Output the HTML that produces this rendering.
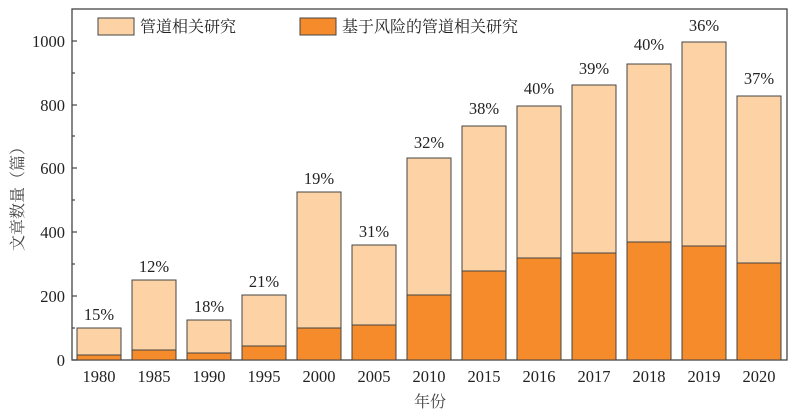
<!DOCTYPE html>
<html><head><meta charset="utf-8"><style>
html,body{margin:0;padding:0;background:#fff;width:800px;height:418px;overflow:hidden}
</style></head><body>
<svg width="800" height="418" xmlns="http://www.w3.org/2000/svg" font-family="'Liberation Serif','Noto Serif CJK SC',serif" fill="#222">
<rect x="72" y="9" width="715" height="351" fill="none" stroke="#444" stroke-width="1.3"/>
<g stroke="#444" stroke-width="1.2">
<line x1="72" y1="360" x2="77" y2="360"/><line x1="72" y1="296" x2="77" y2="296"/><line x1="72" y1="232" x2="77" y2="232"/><line x1="72" y1="168" x2="77" y2="168"/><line x1="72" y1="105" x2="77" y2="105"/><line x1="72" y1="41" x2="77" y2="41"/>
<line x1="72" y1="328" x2="75" y2="328"/><line x1="72" y1="264" x2="75" y2="264"/><line x1="72" y1="200" x2="75" y2="200"/><line x1="72" y1="136" x2="75" y2="136"/><line x1="72" y1="73" x2="75" y2="73"/>
</g>
<g font-size="16.5" text-anchor="end">
<text x="65" y="366">0</text><text x="65" y="302">200</text><text x="65" y="238">400</text><text x="65" y="174">600</text><text x="65" y="111">800</text><text x="65" y="47">1000</text>
</g>
<g stroke="#444" stroke-width="1">
<rect x="77" y="328" width="44" height="32" fill="#FDD3A6"/><rect x="77" y="355" width="44" height="5" fill="#F68B2C"/>
<rect x="132" y="280" width="44" height="80" fill="#FDD3A6"/><rect x="132" y="350" width="44" height="10" fill="#F68B2C"/>
<rect x="187" y="320" width="44" height="40" fill="#FDD3A6"/><rect x="187" y="353" width="44" height="7" fill="#F68B2C"/>
<rect x="242" y="295" width="44" height="65" fill="#FDD3A6"/><rect x="242" y="346" width="44" height="14" fill="#F68B2C"/>
<rect x="297" y="192" width="44" height="168" fill="#FDD3A6"/><rect x="297" y="328" width="44" height="32" fill="#F68B2C"/>
<rect x="352" y="245" width="44" height="115" fill="#FDD3A6"/><rect x="352" y="325" width="44" height="35" fill="#F68B2C"/>
<rect x="407" y="158" width="44" height="202" fill="#FDD3A6"/><rect x="407" y="295" width="44" height="65" fill="#F68B2C"/>
<rect x="462" y="126" width="44" height="234" fill="#FDD3A6"/><rect x="462" y="271" width="44" height="89" fill="#F68B2C"/>
<rect x="517" y="106" width="44" height="254" fill="#FDD3A6"/><rect x="517" y="258" width="44" height="102" fill="#F68B2C"/>
<rect x="572" y="85" width="44" height="275" fill="#FDD3A6"/><rect x="572" y="253" width="44" height="107" fill="#F68B2C"/>
<rect x="627" y="64" width="44" height="296" fill="#FDD3A6"/><rect x="627" y="242" width="44" height="118" fill="#F68B2C"/>
<rect x="682" y="42" width="44" height="318" fill="#FDD3A6"/><rect x="682" y="246" width="44" height="114" fill="#F68B2C"/>
<rect x="737" y="96" width="44" height="264" fill="#FDD3A6"/><rect x="737" y="263" width="44" height="97" fill="#F68B2C"/>
</g>
<g font-size="16.5" text-anchor="middle">
<text x="99" y="320">15%</text><text x="154" y="272">12%</text><text x="209" y="312">18%</text><text x="264" y="287">21%</text><text x="319" y="184">19%</text><text x="374" y="237">31%</text><text x="429" y="148">32%</text><text x="484" y="114">38%</text><text x="539" y="94">40%</text><text x="594" y="74">39%</text><text x="649" y="50">40%</text><text x="704" y="31">36%</text><text x="759" y="84">37%</text>
</g>
<g font-size="16.5" text-anchor="middle">
<text x="99" y="382">1980</text><text x="154" y="382">1985</text><text x="209" y="382">1990</text><text x="264" y="382">1995</text><text x="319" y="382">2000</text><text x="374" y="382">2005</text><text x="429" y="382">2010</text><text x="484" y="382">2015</text><text x="539" y="382">2016</text><text x="594" y="382">2017</text><text x="649" y="382">2018</text><text x="704" y="382">2019</text><text x="759" y="382">2020</text>
</g>
<text x="430" y="407" font-size="16" text-anchor="middle" fill="#444">年份</text>
<text transform="translate(23,195) rotate(-90)" font-size="16" text-anchor="middle" fill="#444">文章数量（篇）</text>
<rect x="98" y="18" width="36" height="17" fill="#FDD3A6" stroke="#444"/>
<text x="140" y="32" font-size="16">管道相关研究</text>
<rect x="300" y="18" width="36" height="17" fill="#F68B2C" stroke="#444"/>
<text x="342" y="32" font-size="16">基于风险的管道相关研究</text>
</svg>
</body></html>
